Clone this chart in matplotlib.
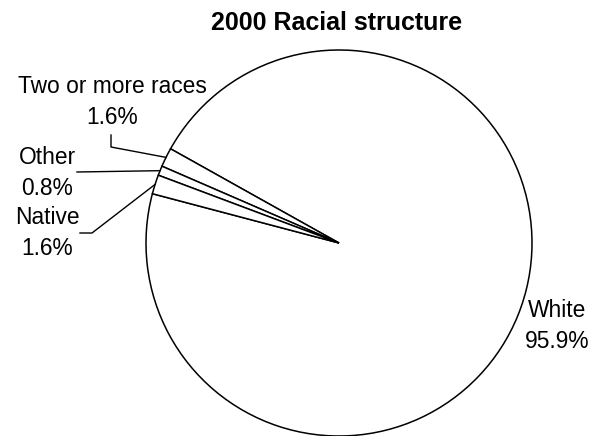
import numpy as np
import matplotlib.pyplot as plt

plt.rcParams['font.family'] = ['Liberation Sans', 'DejaVu Sans']

labels = ['White', 'Two or more races', 'Other', 'Native']
values = [95.9, 1.6, 0.8, 1.6]
pct_text = ['95.9%', '1.6%', '0.8%', '1.6%']

W, H = 598, 436
fig = plt.figure(figsize=(W / 100, H / 100), dpi=100)
ax = fig.add_axes([0, 0, 1, 1])

cx, cy, r = 339, H - 243, 193
wedges, _ = ax.pie(values, center=(cx, cy), radius=r, startangle=165.2,
                   counterclock=True, colors=['white'] * 4,
                   wedgeprops=dict(edgecolor='black', linewidth=1.1))
ax.set_xlim(0, W)
ax.set_ylim(0, H)
ax.set_aspect('equal')
ax.axis('off')


def edge(w):
    a = np.deg2rad((w.theta1 + w.theta2) / 2)
    return cx + r * np.cos(a), cy + r * np.sin(a)


# label text centres (pixels, y from top) and leader knee points
label_pos = {
    'White': (557, 326),
    'Two or more races': (112, 102),
    'Other': (47, 173),
    'Native': (47, 233),
}
knees = {
    'Two or more races': [(111, 135), (111, 147)],
    'Other': [(77, 172)],
    'Native': [(80, 233), (92, 233)],
}

fs = 16.4
for w, lab, p in zip(wedges, labels, pct_text):
    x, y = label_pos[lab]
    ax.text(x, H - y, lab + '\n' + p, ha='center', va='center',
            fontsize=fs, linespacing=1.42)
    if lab in knees:
        ex, ey = edge(w)
        pts = [(kx, H - ky) for kx, ky in knees[lab]] + [(ex, ey)]
        xs, ys = zip(*pts)
        ax.plot(xs, ys, color='black', linewidth=1)

ax.text(337, H - 23, '2000 Racial structure', ha='center', va='center',
        fontsize=18, fontweight='bold')

fig.savefig('out.png', dpi=100)
